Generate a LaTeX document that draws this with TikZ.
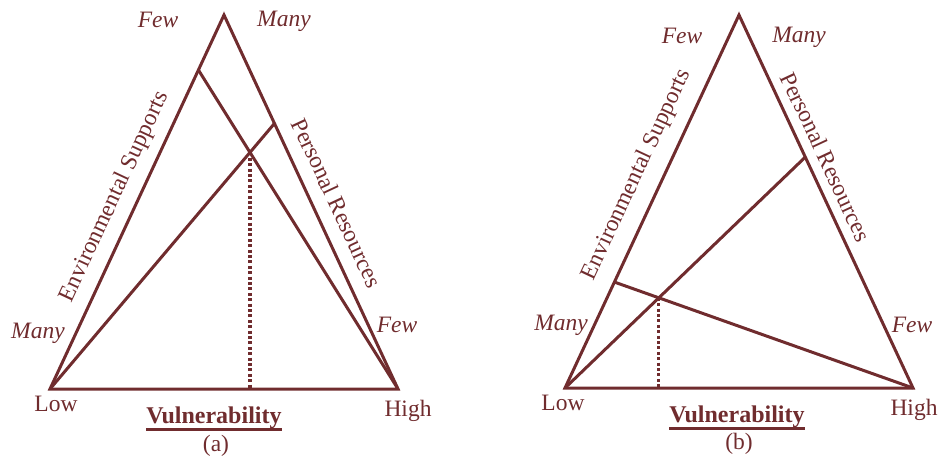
\documentclass[tikz,border=0pt]{standalone}
\usepackage{fontspec}
\setmainfont{Liberation Serif}
\usetikzlibrary{calc}
\definecolor{maroon}{RGB}{112,44,46}

\begin{document}
\begin{tikzpicture}[x=1pt, y=-1pt,
  edge/.style={draw=maroon, line width=3pt},
  guide/.style={draw=maroon, line width=3.2pt, dash pattern=on 3pt off 2.4pt},
  lbl/.style={text=maroon, inner sep=0pt, font=\fontsize{23.5}{27}\selectfont},
  tag/.style={lbl, font=\fontsize{23.5}{27}\selectfont\itshape},
  axis/.style={lbl, font=\fontsize{24}{27}\selectfont\bfseries}]
  \useasboundingbox (0,0) rectangle (943,457);
  % Triangle (a)
  \coordinate (aL) at (50,389);
  \coordinate (aH) at (398,389);
  \coordinate (aT) at (224,15);
  \coordinate (aE) at ($(aL)!0.853!(aT)$);
  \coordinate (aP) at ($(aH)!0.71!(aT)$);
  \draw[edge] (aL) -- (aT) -- (aH) -- cycle;
  \draw[edge] (aE) -- (aH);
  \draw[edge] (aL) -- (aP);
  \coordinate (aX) at (intersection of aL--aP and aE--aH);
  \draw[guide] (aX) -- (aX |- aL);
  % Labels (a)
  \node[tag] (aFewT) at (158,20) {Few};
  \node[tag] (aManyT) at (284,21) {Many};
  \node[tag] (aManyL) at (38,333) {Many};
  \node[tag] (aFewR) at (397,325) {Few};
  \node[lbl, rotate=65] (aEnv) at (115,197) {Environmental Supports};
  \node[lbl, rotate=-65] (aPers) at (337,203) {Personal Resources};
  \node[lbl] (aLow) at (56,404) {Low};
  \node[lbl] (aHigh) at (408,411) {High};
  \node[axis] (aVul) at (214,418) {Vulnerability};
  \draw[maroon, line width=3pt] ([yshift=-6pt]aVul.base west) -- ([yshift=-6pt]aVul.base east);
  \node[lbl] (aCap) at (216,446) {(a)};
  % Triangle (b)
  \coordinate (bL) at (565,388);
  \coordinate (bH) at (913,388);
  \coordinate (bT) at (739,15);
  \coordinate (bE) at ($(bL)!0.284!(bT)$);
  \coordinate (bP) at ($(bH)!0.619!(bT)$);
  \draw[edge] (bL) -- (bT) -- (bH) -- cycle;
  \draw[edge] (bE) -- (bH);
  \draw[edge] (bL) -- (bP);
  \coordinate (bX) at (intersection of bL--bP and bE--bH);
  \draw[guide] (bX) -- (bX |- bL);
  % Labels (b)
  \node[tag] (bFewT) at (682,36) {Few};
  \node[tag] (bManyT) at (799,37) {Many};
  \node[tag] (bManyL) at (561,325) {Many};
  \node[tag] (bFewR) at (912,325) {Few};
  \node[lbl, rotate=65] (bEnv) at (637,175) {Environmental Supports};
  \node[lbl, rotate=-65] (bPers) at (826,157) {Personal Resources};
  \node[lbl] (bLow) at (563,403) {Low};
  \node[lbl] (bHigh) at (914,410) {High};
  \node[axis] (bVul) at (737,417) {Vulnerability};
  \draw[maroon, line width=3pt] ([yshift=-6pt]bVul.base west) -- ([yshift=-6pt]bVul.base east);
  \node[lbl] (bCap) at (739,444) {(b)};
\end{tikzpicture}
\end{document}
